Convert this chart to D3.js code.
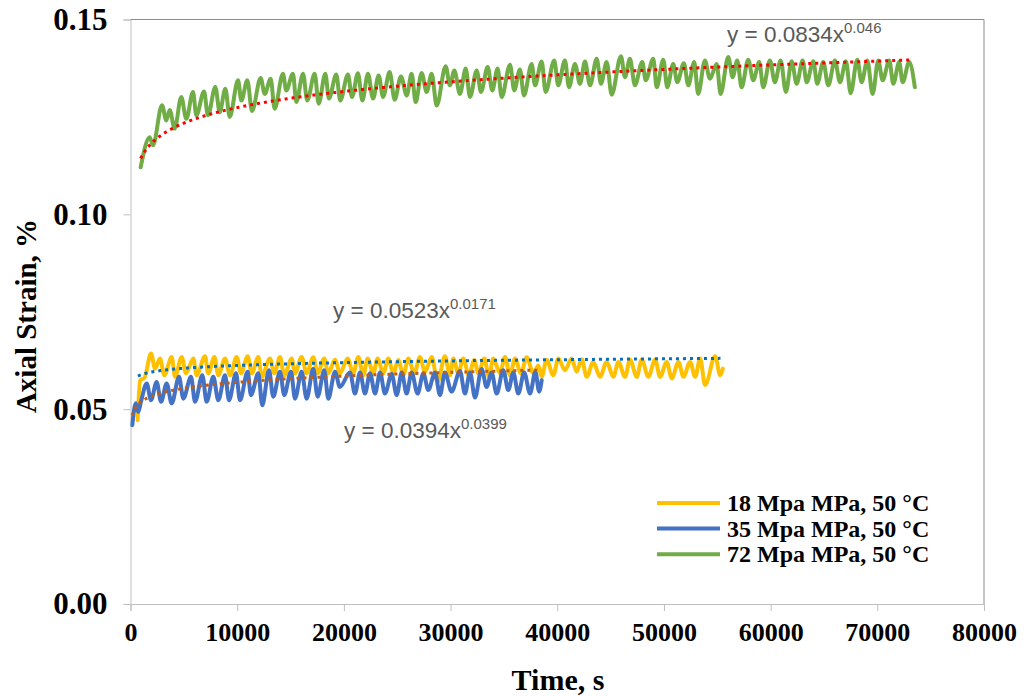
<!DOCTYPE html>
<html>
<head>
<meta charset="utf-8">
<script src="https://cdn.jsdelivr.net/npm/d3@7"></script>
<style>
  html, body { margin: 0; padding: 0; background: #ffffff; }
  svg { display: block; }
</style>
</head>
<body>
<svg id="chart" width="1027" height="696"></svg>
<script>
// Creep test: axial strain (%) vs time (s) at 50 °C, three stress levels.
// Each series is listed as [time, strain] turning points of its cyclic trace.

const series72 = [
  [956,0.1121],[1800,0.1198],[2110,0.1177],[2950,0.1280],[3360,0.1241],[3670,0.1268],[4140,0.1220],
  [4760,0.1301],[5230,0.1245],[5860,0.1314],[6170,0.1254],[6890,0.1315],[7260,0.1254],[7950,0.1327],
  [8360,0.1262],[8890,0.1322],[9300,0.1250],[10080,0.1344],[10390,0.1292],[10950,0.1344],[11390,0.1265],
  [12200,0.1350],[12580,0.1309],[13140,0.1348],[13510,0.1271],[14290,0.1361],[14600,0.1318],[15230,0.1361],
  [15540,0.1288],[16170,0.1361],[16570,0.1292],[17260,0.1361],[17640,0.1284],[18260,0.1361],[18600,0.1297],
  [19290,0.1359],[19660,0.1292],[20380,0.1359],[20760,0.1301],[21320,0.1362],[21730,0.1292],[22260,0.1361],
  [22730,0.1297],[23260,0.1356],[23670,0.1301],[24290,0.1365],[24760,0.1294],[25350,0.1354],[25890,0.1305],
  [26350,0.1361],[26730,0.1288],[27290,0.1363],[27760,0.1314],[28230,0.1361],[28700,0.1279],[29540,0.1380],
  [29940,0.1331],[30350,0.1369],[30880,0.1309],[31420,0.1374],[31820,0.1301],[32450,0.1369],[32850,0.1314],
  [33480,0.1378],[33910,0.1318],[34410,0.1374],[34790,0.1301],[35570,0.1384],[35970,0.1318],[36500,0.1372],
  [36880,0.1305],[37600,0.1386],[37910,0.1331],[38540,0.1392],[38910,0.1314],[39720,0.1395],[40090,0.1331],
  [40720,0.1395],[41100,0.1326],[41660,0.1386],[42130,0.1335],[42600,0.1392],[43070,0.1331],[43700,0.1399],
  [44100,0.1335],[44630,0.1391],[45100,0.1307],[45970,0.1406],[46350,0.1352],[46810,0.1399],[47280,0.1331],
  [47970,0.1391],[48290,0.1344],[49000,0.1399],[49320,0.1326],[49940,0.1397],[50310,0.1326],[50870,0.1386],
  [51250,0.1339],[51870,0.1388],[52280,0.1331],[52840,0.1391],[53210,0.1309],[53840,0.1395],[54310,0.1348],
  [54940,0.1386],[55310,0.1309],[56030,0.1404],[56440,0.1352],[56870,0.1395],[57280,0.1326],[57900,0.1397],
  [58370,0.1344],[58930,0.1391],[59310,0.1326],[59930,0.1395],[60400,0.1339],[60940,0.1395],[61430,0.1314],
  [61970,0.1393],[62440,0.1335],[63000,0.1395],[63380,0.1339],[64000,0.1393],[64370,0.1335],[64930,0.1391],
  [65400,0.1331],[66030,0.1395],[66500,0.1339],[67060,0.1393],[67500,0.1311],[68120,0.1397],[68530,0.1339],
  [69060,0.1395],[69560,0.1309],[70090,0.1395],[70500,0.1344],[71120,0.1395],[71500,0.1335],[72050,0.1391],
  [72370,0.1339],[72990,0.1391],[73520,0.1326]
];

const series18 = [
  [670,0.0472],[900,0.0574],[1300,0.0580],[1930,0.0643],[2300,0.0604],[2760,0.0630],[3170,0.0587],
  [3860,0.0634],[4170,0.0583],[4800,0.0634],[5200,0.0592],[5890,0.0630],[6200,0.0587],[6980,0.0636],
  [7290,0.0592],[7860,0.0634],[8230,0.0587],[8860,0.0630],[9330,0.0587],[9950,0.0634],[10360,0.0592],
  [10980,0.0636],[11360,0.0592],[11980,0.0634],[12300,0.0583],[13070,0.0630],[13480,0.0592],[14010,0.0634],
  [14410,0.0587],[15110,0.0630],[15420,0.0592],[16040,0.0634],[16510,0.0592],[17130,0.0633],[17540,0.0592],
  [18160,0.0630],[18540,0.0592],[19170,0.0627],[19630,0.0592],[20350,0.0630],[20885,0.0592],[21350,0.0634],
  [21820,0.0587],[22230,0.0630],[22760,0.0592],[23160,0.0630],[23700,0.0592],[24160,0.0630],[24640,0.0592],
  [25100,0.0626],[25570,0.0587],[26040,0.0630],[26600,0.0592],[27130,0.0634],[27600,0.0596],[28230,0.0634],
  [28790,0.0570],[29470,0.0636],[29940,0.0587],[30260,0.0630],[30720,0.0592],[31190,0.0630],[31720,0.0587],
  [32220,0.0626],[32600,0.0592],[33160,0.0630],[33600,0.0583],[34000,0.0630],[34630,0.0592],[35100,0.0634],
  [35570,0.0587],[36040,0.0630],[36600,0.0592],[37130,0.0633],[37760,0.0592],[38230,0.0612],[38540,0.0583],
  [39000,0.0627],[39630,0.0587],[40100,0.0630],[40720,0.0600],[41350,0.0630],[41820,0.0596],[42290,0.0628],
  [42760,0.0583],[43380,0.0621],[44010,0.0583],[44630,0.0621],[45260,0.0583],[45730,0.0621],[46350,0.0583],
  [46820,0.0627],[47450,0.0583],[47920,0.0627],[48540,0.0583],[49170,0.0627],[49640,0.0583],[50260,0.0621],
  [50730,0.0579],[51360,0.0621],[51830,0.0583],[52450,0.0621],[52930,0.0583],[53390,0.0630],[53860,0.0562],
  [54800,0.0636],[55270,0.0587],[55520,0.0604]
];

const series35 = [
  [170,0.0459],[490,0.0515],[730,0.0493],[980,0.0519],[1520,0.0566],[1920,0.0523],[2450,0.0570],
  [2860,0.0519],[3390,0.0566],[3860,0.0515],[4550,0.0583],[4950,0.0527],[5670,0.0583],[6050,0.0519],
  [6730,0.0587],[7140,0.0519],[7760,0.0583],[8230,0.0523],[8860,0.0587],[9230,0.0523],[9890,0.0592],
  [10260,0.0523],[10980,0.0596],[11290,0.0536],[11980,0.0592],[12350,0.0510],[12980,0.0600],[13380,0.0532],
  [14010,0.0596],[14410,0.0536],[15040,0.0596],[15420,0.0527],[16040,0.0596],[16510,0.0527],[17130,0.0604],
  [17540,0.0532],[18160,0.0600],[18540,0.0527],[19170,0.0596],[19630,0.0557],[20570,0.0594],[21040,0.0540],
  [21510,0.0594],[21980,0.0540],[22450,0.0592],[22920,0.0540],[23390,0.0594],[23850,0.0540],[24480,0.0590],
  [24950,0.0536],[25420,0.0594],[25880,0.0540],[26350,0.0594],[26910,0.0540],[27450,0.0592],[27910,0.0549],
  [28540,0.0594],[29010,0.0536],[29470,0.0594],[30100,0.0545],[30880,0.0598],[31350,0.0540],[31820,0.0594],
  [32290,0.0530],[32910,0.0603],[33380,0.0557],[33850,0.0594],[34320,0.0540],[34940,0.0600],[35410,0.0549],
  [35880,0.0594],[36350,0.0540],[36900,0.0594],[37450,0.0540],[37950,0.0596],[38300,0.0545],[38540,0.0574]
];

// Power-law trendlines y = a·x^b, as printed on the chart
const trendCoef = { s18: [0.0523, 0.0171], s35: [0.0394, 0.0399], s72: [0.0834, 0.046] };
const trendSpan = { s18: [700, 55300], s35: [170, 38400], s72: [950, 73200] };

const legendLabels = ["18 Mpa MPa, 50 °C", "35 Mpa MPa, 50 °C", "72 Mpa MPa, 50 °C"];
const xTicks = [0, 10000, 20000, 30000, 40000, 50000, 60000, 70000, 80000];
const yTicks = [0, 0.05, 0.10, 0.15];

const colors = { s18: "#FFC000", s35: "#4472C4", s72: "#70AD47" };
const trendColors = { s18: "#0070C0", s35: "#C55A11", s72: "#FF0000" };

const svg = d3.select("#chart");
const x = d3.scaleLinear().domain([0, 80000]).range([130.5, 984]);
const y = d3.scaleLinear().domain([0, 0.15]).range([604, 19.5]);

const serif = "'Liberation Serif', 'Times New Roman', serif";
const sans = "'Liberation Sans', Arial, sans-serif";

// plot-area frame (top and right edges)
svg.append("path")
  .attr("d", `M${x(0)},${y(0.15)}H${x(80000)}V${y(0)}`)
  .attr("fill", "none").attr("stroke", "#8C8C8C").attr("stroke-width", 1);

// axes
const gx = svg.append("g").attr("transform", `translate(0,${y(0)})`)
  .call(d3.axisBottom(x).tickValues(xTicks).tickFormat(d3.format("d")).tickSize(7).tickPadding(12));
const gy = svg.append("g").attr("transform", `translate(${x(0)},0)`)
  .call(d3.axisLeft(y).tickValues(yTicks).tickFormat(d3.format(".2f")).tickSize(7).tickPadding(16));
[gx, gy].forEach(g => {
  g.selectAll(".domain").attr("stroke", "#BFBFBF");
  g.selectAll(".tick line").attr("stroke", "#BFBFBF");
  g.selectAll(".tick text")
    .attr("fill", "#000").style("font-family", serif).style("font-weight", "bold");
});
gx.selectAll(".tick text").style("font-size", "26px");
gy.selectAll(".tick text").style("font-size", "31px");

// axis titles
svg.append("text")
  .attr("x", 558).attr("y", 690).attr("text-anchor", "middle")
  .style("font-family", serif).style("font-weight", "bold").style("font-size", "30px")
  .text("Time, s");
svg.append("text")
  .attr("transform", "translate(36,316) rotate(-90)").attr("text-anchor", "middle")
  .style("font-family", serif).style("font-weight", "bold").style("font-size", "29px")
  .text("Axial Strain, %");

// series
const line = d3.line().x(d => x(d[0])).y(d => y(d[1])).curve(d3.curveMonotoneX);
const seriesData = [["s18", series18], ["s35", series35], ["s72", series72]];
seriesData.forEach(([k, data]) => {
  svg.append("path").datum(data)
    .attr("d", line).attr("fill", "none")
    .attr("stroke", colors[k]).attr("stroke-width", 4)
    .attr("stroke-linejoin", "round").attr("stroke-linecap", "round");
});

// trendlines
["s18", "s35", "s72"].forEach(k => {
  const [a, b] = trendCoef[k];
  const [t0, t1] = trendSpan[k];
  const pts = d3.range(t0, t1, 100).concat([t1]).map(t => [t, a * Math.pow(t, b)]);
  svg.append("path").datum(pts)
    .attr("d", d3.line().x(d => x(d[0])).y(d => y(d[1])))
    .attr("fill", "none").attr("stroke", trendColors[k]).attr("stroke-width", 3)
    .attr("stroke-dasharray", "3 4");
});

// trendline equations
const equations = [
  { base: "y = 0.0834x", exp: "0.046", x: 727, y: 42 },
  { base: "y = 0.0523x", exp: "0.0171", x: 333, y: 318 },
  { base: "y = 0.0394x", exp: "0.0399", x: 344, y: 438 }
];
equations.forEach(e => {
  const t = svg.append("text").attr("x", e.x).attr("y", e.y)
    .style("font-family", sans).style("font-size", "22.5px").attr("fill", "#595959");
  t.append("tspan").text(e.base);
  t.append("tspan").attr("dy", -9).style("font-size", "15px").text(e.exp);
});

// legend
const legend = svg.append("g");
["s18", "s35", "s72"].forEach((k, i) => {
  const ly = 503 + i * 25.6;
  legend.append("line").attr("x1", 657).attr("x2", 720).attr("y1", ly).attr("y2", ly)
    .attr("stroke", colors[k]).attr("stroke-width", 4);
  legend.append("text").attr("x", 727).attr("y", ly + 8)
    .style("font-family", serif).style("font-weight", "bold").style("font-size", "24px")
    .text(legendLabels[i]);
});
</script>
</body>
</html>
